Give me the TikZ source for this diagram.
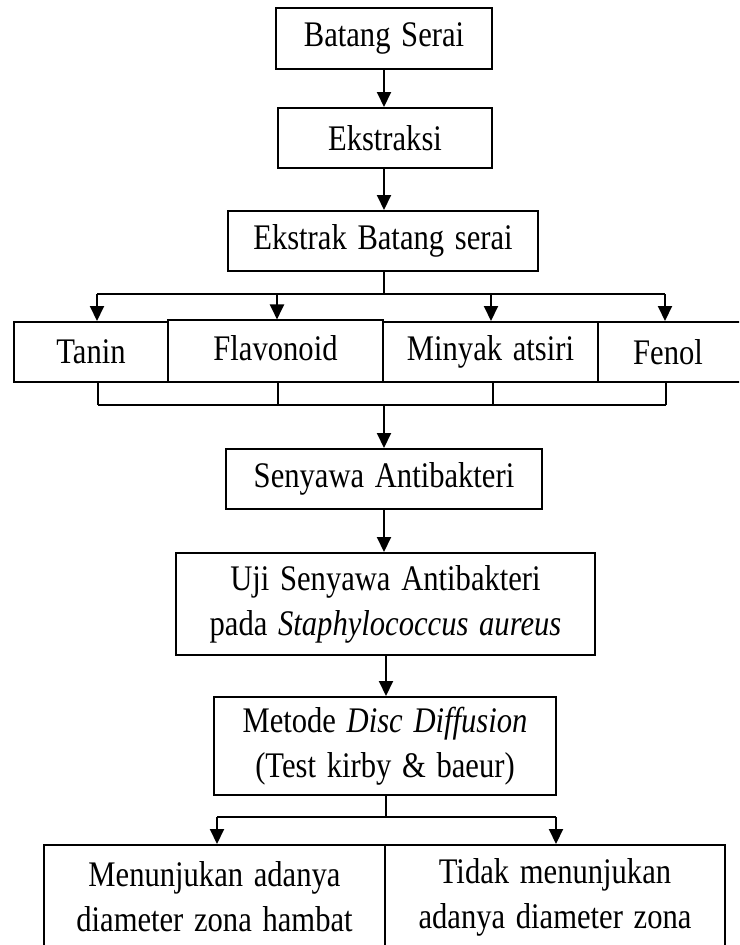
\documentclass[tikz,border=0pt]{standalone}
\usepackage{fontspec}
\setmainfont{Liberation Serif}[FakeStretch=0.85, WordSpace=1.4]
\usetikzlibrary{arrows.meta}
\tikzset{
  boxfont/.style={font=\fontsize{36}{45}\selectfont},
  box/.style={draw, line width=2pt, inner sep=0pt, align=center, boxfont},
  flow/.style={line width=2pt, -{Triangle[length=15pt,width=14pt]}},
  link/.style={line width=2pt},
}
\begin{document}
\begin{tikzpicture}[x=1pt,y=-1pt]
\useasboundingbox (0,0) rectangle (739,945);
\fill[white] (0,0) rectangle (739,945);
\clip (0,0) rectangle (739,945);

% main chain
\node[box, minimum width=216pt, minimum height=61pt] (bs) at (384,38.5) {Batang Serai};
\node[box, minimum width=214pt, minimum height=60pt] (ek) at (385,138) {Ekstraksi};
\node[box, minimum width=310pt, minimum height=60pt] (ebs) at (383,241) {Ekstrak Batang serai};

% compound row
\node[box, minimum width=154pt, minimum height=60pt] (tanin) at (91,352) {Tanin};
\node[box, minimum width=215pt, minimum height=61.5pt] (flav) at (275.5,351.2) {};
\node[boxfont] (flavtxt) at (275.5,348) {Flavonoid};
\node[box, minimum width=215pt, minimum height=60pt] (minyak) at (490.5,352) {Minyak atsiri};
\node[box, minimum width=146pt, minimum height=60pt] (fenol) at (671,352) {};
\node[boxfont] (fenoltxt) at (668,352) {Fenol};

\node[box, minimum width=316pt, minimum height=60pt] (sen) at (384,479) {Senyawa Antibakteri};
\node[box, minimum width=419pt, minimum height=102pt] (uji) at (385.5,604)
  {Uji Senyawa Antibakteri\\pada \textit{Staphylococcus aureus}};
\node[box, minimum width=342pt, minimum height=98pt] (met) at (385,746)
  {Metode \textit{Disc Diffusion}\\(Test kirby \& baeur)};

% outcomes
\node[box, minimum width=341pt, minimum height=104pt] (ya) at (214.5,897)
  {Menunjukan adanya\\diameter zona hambat};
\node[box, minimum width=340pt, minimum height=104pt] (tidak) at (555,897)
  {Tidak menunjukan\\adanya diameter zona};

% connectors
\coordinate (c0) at (384,0);
\draw[flow] (c0 |- bs.south) -- (c0 |- ek.north);
\draw[flow] (c0 |- ek.south) -- (c0 |- ebs.north);

\coordinate (s0) at (384,294);
\coordinate (s1) at (97,294);
\coordinate (s2) at (277,294);
\coordinate (s3) at (491,294);
\coordinate (s4) at (665,294);
\draw[link] (s0 |- ebs.south) -- (s0);
\draw[link] (s1) -- (s4);
\draw[flow] (s1) -- (s1 |- tanin.north);
\draw[flow] (s2) -- (s2 |- flav.north);
\draw[flow] (s3) -- (s3 |- minyak.north);
\draw[flow] (s4) -- (s4 |- fenol.north);

\coordinate (j0) at (384,405);
\coordinate (j1) at (98,405);
\coordinate (j2) at (278,405);
\coordinate (j3) at (493,405);
\coordinate (j4) at (666,405);
\draw[link] (j1 |- tanin.south) -- (j1);
\draw[link] (j2 |- flav.south) -- (j2);
\draw[link] (j3 |- minyak.south) -- (j3);
\draw[link] (j4 |- fenol.south) -- (j4);
\draw[link] (j1) -- (j4);
\draw[flow] (j0) -- (j0 |- sen.north);

\draw[flow] (c0 |- sen.south) -- (c0 |- uji.north);
\coordinate (u0) at (386,655);
\draw[flow] (u0) -- (u0 |- met.north);

\coordinate (m0) at (386,817);
\coordinate (m1) at (217,817);
\coordinate (m2) at (556,817);
\draw[link] (m0 |- met.south) -- (m0);
\draw[link] (m1) -- (m2);
\draw[flow] (m1) -- (m1 |- ya.north);
\draw[flow] (m2) -- (m2 |- tidak.north);
\end{tikzpicture}
\end{document}
